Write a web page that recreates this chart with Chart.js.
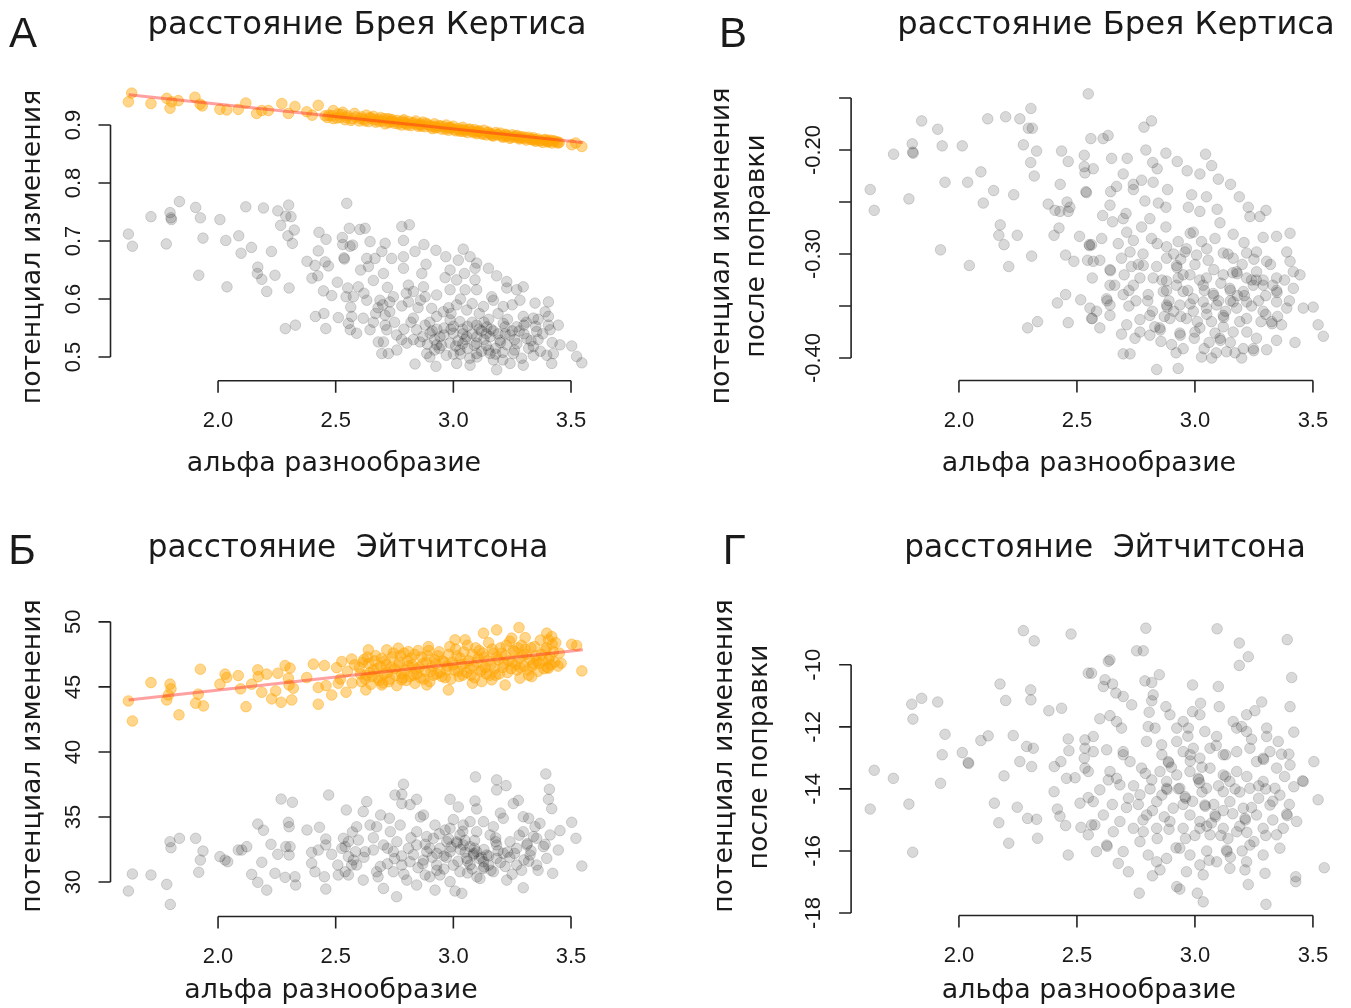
<!DOCTYPE html>
<html lang="ru">
<head>
<meta charset="utf-8">
<title>Потенциал изменения и альфа разнообразие</title>
<script src="https://cdn.jsdelivr.net/npm/chart.js@4.4.1/dist/chart.umd.min.js"></script>
<style>
  html, body { margin: 0; padding: 0; background: #fff; }
  #wrap { position: relative; width: 1351px; height: 1008px; }
  #wrap canvas { position: absolute; left: 0; top: 0; }
</style>
</head>
<body>
<div id="wrap">
  <canvas id="panelA" width="1351" height="1008"></canvas>
  <canvas id="panelB" width="1351" height="1008"></canvas>
  <canvas id="panelC" width="1351" height="1008"></canvas>
  <canvas id="panelD" width="1351" height="1008"></canvas>
</div>
<script>
// Деления осей
const xTicks = [2.0, 2.5, 3.0, 3.5];
const xTickLabels = ['2.0', '2.5', '3.0', '3.5'];
const brayTicks = [0.5, 0.6, 0.7, 0.8, 0.9];
const brayTickLabels = ['0.5', '0.6', '0.7', '0.8', '0.9'];
const brayAdjTicks = [-0.40, -0.35, -0.30, -0.25, -0.20, -0.15];
const brayAdjTickLabels = ['-0.40', '', '-0.30', '', '-0.20', ''];
const aitchTicks = [30, 35, 40, 45, 50];
const aitchTickLabels = ['30', '35', '40', '45', '50'];
const aitchAdjTicks = [-18, -16, -14, -12, -10];
const aitchAdjTickLabels = ['-18', '-16', '-14', '-12', '-10'];

// Линии регрессии
const brayFitX = [1.62, 3.55];
const brayFitY = [0.952, 0.870];
const aitchFitX = [1.62, 3.55];
const aitchFitY = [44.0, 47.85];

// А: Брей-Кертис, наблюдаемые (оранжевые)
const brayObserved = [
  [1.633,0.955],[1.619,0.940],[1.715,0.937],[1.782,0.946],[1.803,0.940],[1.796,0.929],[1.831,0.942],[1.902,0.948],
  [1.924,0.936],[1.933,0.933],[2.008,0.927],[2.037,0.926],[2.086,0.927],[2.118,0.938],[2.164,0.920],[2.186,0.925],
  [2.214,0.925],[2.271,0.937],[2.299,0.920],[2.327,0.932],[2.377,0.923],[2.426,0.934],[2.455,0.916],[2.40,0.917],
  [2.49,0.925],[2.53,0.922],
  [2.47,0.917],[2.49,0.911],[2.51,0.919],[2.52,0.913],[2.54,0.909],[2.55,0.916],[2.57,0.911],[2.58,0.920],
  [2.60,0.907],[2.61,0.914],[2.62,0.910],[2.63,0.917],[2.64,0.906],[2.65,0.912],[2.66,0.915],[2.67,0.905],
  [2.68,0.910],[2.69,0.913],[2.70,0.907],[2.71,0.902],[2.72,0.911],[2.73,0.906],[2.74,0.909],[2.75,0.903],
  [2.76,0.908],[2.77,0.905],[2.78,0.900],[2.79,0.909],[2.80,0.902],[2.81,0.906],[2.82,0.899],[2.83,0.904],
  [2.84,0.907],[2.85,0.898],[2.86,0.902],[2.87,0.905],[2.88,0.897],[2.89,0.901],[2.90,0.899],[2.91,0.894],
  [2.92,0.902],[2.93,0.896],[2.94,0.899],[2.95,0.893],[2.96,0.897],[2.97,0.900],[2.98,0.891],[2.99,0.895],
  [3.00,0.898],[3.01,0.890],[3.02,0.894],[3.03,0.889],[3.04,0.896],[3.05,0.891],[3.06,0.887],[3.07,0.893],
  [3.08,0.889],[3.09,0.892],[3.10,0.885],[3.11,0.890],[3.12,0.886],[3.13,0.891],[3.14,0.883],[3.15,0.888],
  [3.16,0.885],[3.17,0.881],[3.18,0.887],[3.19,0.883],[3.20,0.886],[3.21,0.879],[3.22,0.884],[3.23,0.881],
  [3.24,0.877],[3.25,0.883],[3.26,0.879],[3.27,0.882],[3.28,0.876],[3.29,0.880],[3.30,0.877],[3.31,0.874],
  [3.32,0.879],[3.33,0.875],[3.34,0.878],[3.35,0.872],[3.36,0.876],[3.37,0.873],[3.38,0.870],[3.39,0.875],
  [3.40,0.871],[3.41,0.874],[3.42,0.869],[3.43,0.872],[3.45,0.870],[3.503,0.866],[3.546,0.863],[3.52,0.869],
  [2.73,0.910],[2.79,0.904],[2.86,0.900],[2.92,0.898],[2.98,0.895],[3.04,0.892],[3.10,0.888],[3.16,0.884],
  [3.22,0.880],[3.28,0.878],[3.34,0.874],[3.40,0.873],[3.44,0.871],
  [2.465,0.913],[2.485,0.916],[2.505,0.912],[2.525,0.918],[2.545,0.913],[2.565,0.908],[2.585,0.914],[2.605,0.911],
  [2.625,0.907],[2.645,0.913],[2.665,0.909],[2.685,0.906],[2.705,0.911],[2.725,0.904],[2.745,0.906],[2.765,0.902],
  [2.785,0.907],[2.805,0.900],[2.825,0.903],[2.845,0.901],[2.865,0.898],[2.885,0.903],[2.905,0.897],[2.925,0.895],
  [2.945,0.898],[2.965,0.893],[2.985,0.896],[3.005,0.892],[3.025,0.891],[3.045,0.889],[3.065,0.892],[3.085,0.887],
  [3.105,0.889],[3.125,0.884],[3.145,0.887],[3.165,0.882],[3.185,0.884],[3.205,0.881],[3.225,0.883],[3.245,0.879],
  [3.265,0.881],[3.285,0.878],[3.305,0.879],[3.325,0.876],[3.345,0.875],[3.365,0.873],[3.385,0.874],[3.405,0.871],
  [3.425,0.873],[3.445,0.869]
];

// А: Брей-Кертис, нулевая модель (серые)
const brayNull = [
  [1.836,0.768],[1.905,0.758],[1.715,0.742],[1.796,0.749],[1.800,0.740],[1.802,0.737],[1.925,0.740],[2.008,0.737],
  [2.118,0.759],[2.193,0.757],[2.254,0.752],[2.300,0.762],[2.288,0.743],[2.310,0.742],[2.266,0.727],[2.324,0.719],
  [2.297,0.709],[2.316,0.696],[1.619,0.712],[1.636,0.691],[1.780,0.695],[1.936,0.705],[2.033,0.701],[2.088,0.709],
  [2.142,0.689],[2.098,0.679],[2.227,0.682],[1.918,0.641],[2.038,0.621],[2.169,0.655],[2.167,0.644],[2.186,0.634],
  [2.242,0.641],[2.207,0.613],[2.302,0.619],[2.286,0.549],[2.329,0.555],[2.414,0.570],[2.450,0.575],[2.458,0.549],
  [2.511,0.568],[2.547,0.765],[2.429,0.715],[2.459,0.703],[2.528,0.706],[2.530,0.694],[2.561,0.691],[2.535,0.671],
  [2.537,0.669],[2.426,0.683],[2.378,0.665],[2.412,0.658],[2.455,0.664],[2.469,0.657],[2.399,0.636],[2.424,0.640],
  [2.507,0.629],[2.448,0.614],[2.483,0.606],[2.551,0.619],[2.544,0.604],[2.564,0.586],[2.558,0.722],[2.554,0.558],
  [2.562,0.547],
  [2.781,0.725],[2.813,0.728],[2.603,0.720],[2.625,0.722],[2.572,0.693],[2.646,0.699],[2.710,0.696],[2.788,0.701],
  [2.875,0.694],[2.926,0.684],[2.837,0.682],[3.042,0.686],[3.071,0.673],[2.968,0.673],[3.021,0.667],[2.696,0.682],
  [2.632,0.670],[2.667,0.670],[2.738,0.670],[2.788,0.673],[2.884,0.660],[3.099,0.662],[3.092,0.653],[3.149,0.653],
  [3.184,0.640],[3.047,0.644],[2.986,0.650],[2.965,0.637],[2.606,0.650],[2.639,0.656],[2.703,0.644],[2.788,0.653],
  [2.866,0.644],[3.227,0.630],[3.227,0.619],[3.269,0.616],[3.297,0.621],[3.092,0.633],[3.014,0.633],[2.660,0.632],
  [2.596,0.621],[2.809,0.624],[2.873,0.621],[2.986,0.616],[3.050,0.616],[3.099,0.616],[2.929,0.607],[2.830,0.613],
  [2.575,0.604],[2.632,0.598],[2.688,0.598],[2.745,0.604],[2.809,0.595],[2.880,0.604],[3.163,0.604],[3.170,0.598],
  [3.283,0.598],[3.347,0.593],[3.404,0.595],[3.390,0.578],[3.404,0.570],[3.446,0.555],[2.781,0.588],[2.908,0.584],
  [2.957,0.578],[3.014,0.590],[3.057,0.581],[3.128,0.587],[3.212,0.587],[3.297,0.570],[3.340,0.567],[2.568,0.570],
  [2.617,0.567],[2.710,0.572],[2.830,0.567],[2.929,0.570],[2.986,0.564],[3.028,0.561],[3.099,0.555],[3.142,0.552],
  [3.212,0.558],[3.269,0.552],[3.354,0.544],[3.411,0.547],[3.404,0.555],[2.589,0.541],[2.646,0.547],[2.717,0.547],
  [2.759,0.538],[2.844,0.547],[2.901,0.541],[2.943,0.535],[3.000,0.541],[3.057,0.535],[3.156,0.535],[3.198,0.529],
  [3.312,0.532],[2.703,0.526],[2.681,0.526],[2.802,0.524],[2.858,0.526],[2.929,0.521],[2.986,0.524],[3.099,0.524],
  [3.227,0.521],[3.340,0.518],[3.453,0.521],[3.503,0.519],[2.696,0.506],[2.724,0.506],[2.887,0.506],[3.028,0.512],
  [3.099,0.506],[3.156,0.506],[3.255,0.506],[3.340,0.503],[3.397,0.503],[3.425,0.506],[3.524,0.501],[3.546,0.490],
  [2.837,0.488],[2.926,0.484],[3.014,0.489],[3.071,0.486],[3.184,0.478],[3.241,0.489],[3.297,0.486],[3.418,0.489],
  [3.05,0.530],[3.12,0.545],[3.18,0.515],[3.08,0.560],[2.96,0.550],[3.22,0.540],[3.15,0.565],[2.92,0.530],
  [3.03,0.505],[3.26,0.530],[2.88,0.555],[2.99,0.575],[3.11,0.575],[3.30,0.555],[3.36,0.565],[2.85,0.585],
  [2.75,0.560],[2.68,0.585],[2.72,0.620],[2.62,0.610],
  [2.87,0.535],[2.90,0.560],[2.93,0.548],[2.95,0.520],[2.97,0.503],[3.00,0.553],[3.02,0.528],[3.04,0.548],
  [3.06,0.515],[3.08,0.540],[3.10,0.500],[3.10,0.535],[3.13,0.560],[3.14,0.520],[3.16,0.548],[3.17,0.495],
  [3.19,0.540],[3.21,0.508],[3.23,0.565],[3.24,0.538],[3.26,0.512],[3.28,0.545],[3.29,0.498],[3.31,0.560],
  [3.33,0.528],[3.35,0.553],[3.37,0.510],[3.38,0.540],[3.42,0.525],[2.98,0.585],[3.03,0.600],[3.08,0.592],
  [3.19,0.575],[3.25,0.590],[2.83,0.530],[2.79,0.548],[2.76,0.512],[2.73,0.578],[2.66,0.560],[2.80,0.610],
  [2.86,0.598],[2.92,0.512],[3.12,0.510],[3.07,0.498],[3.21,0.495],[2.90,0.500],
  [2.91,0.545],[2.94,0.515],[2.96,0.538],[2.99,0.548],[3.01,0.519],[3.04,0.540],[3.06,0.553],[3.09,0.520],
  [3.11,0.548],[3.13,0.530],[3.15,0.512],[3.17,0.545],[3.20,0.525],[3.22,0.552],[3.25,0.545],[3.27,0.523],
  [3.30,0.540],[3.32,0.515],[3.04,0.523],[3.14,0.540],[2.70,0.590],[2.73,0.595],[2.67,0.575],[2.71,0.555],
  [2.78,0.530],[2.82,0.560],[2.89,0.522],[3.00,0.505],[3.18,0.505],[3.36,0.530]
];

// В: Брей-Кертис после поправки
const brayAdjusted = [
  [2.548,-0.146],[2.305,-0.160],[1.842,-0.172],[1.910,-0.180],[2.122,-0.170],[2.198,-0.168],[2.258,-0.170],[2.294,-0.179],
  [2.311,-0.179],[1.802,-0.194],[1.804,-0.202],[1.806,-0.203],[1.723,-0.204],[1.929,-0.196],[2.014,-0.196],[2.273,-0.195],
  [2.329,-0.201],[2.435,-0.201],[2.531,-0.205],[2.559,-0.189],[2.304,-0.212],[2.463,-0.211],[2.531,-0.216],[2.534,-0.222],
  [2.093,-0.221],[2.319,-0.225],[1.624,-0.238],[1.641,-0.258],[1.788,-0.247],[1.941,-0.231],[2.037,-0.231],[2.147,-0.239],
  [2.232,-0.243],[2.103,-0.251],[2.429,-0.233],[2.538,-0.240],[2.540,-0.241],[2.378,-0.252],[2.407,-0.258],[2.428,-0.259],
  [2.458,-0.250],[2.470,-0.255],[2.463,-0.259],[2.175,-0.272],[2.169,-0.282],[2.191,-0.291],[2.247,-0.282],[2.424,-0.275],
  [2.403,-0.282],[2.511,-0.283],[2.552,-0.291],[2.554,-0.292],[1.922,-0.296],[2.044,-0.311],[2.211,-0.312],[2.308,-0.302],
  [2.452,-0.301],[2.487,-0.307],[2.545,-0.306],[2.565,-0.323],[2.417,-0.347],[2.452,-0.339],[2.516,-0.344],[2.555,-0.352],
  [2.565,-0.362],[2.291,-0.371],[2.333,-0.365],[2.463,-0.366],
  [2.784,-0.178],[2.816,-0.172],[2.611,-0.189],[2.632,-0.186],[2.647,-0.208],[2.713,-0.208],[2.792,-0.200],[2.877,-0.203],
  [2.821,-0.212],[2.840,-0.218],[2.925,-0.211],[2.967,-0.220],[3.021,-0.223],[3.045,-0.204],[3.071,-0.215],[2.569,-0.218],
  [2.696,-0.223],[2.739,-0.233],[2.774,-0.229],[2.823,-0.231],[2.739,-0.238],[2.643,-0.240],[2.668,-0.235],[2.788,-0.249],
  [2.884,-0.238],[2.845,-0.251],[2.877,-0.255],[3.099,-0.228],[3.151,-0.233],[2.986,-0.243],[3.049,-0.245],[3.094,-0.257],
  [2.972,-0.255],[3.021,-0.259],[3.188,-0.245],[3.226,-0.255],[3.233,-0.264],[3.275,-0.264],[3.301,-0.258],[2.609,-0.263],
  [2.640,-0.253],[2.651,-0.269],[2.696,-0.266],[2.708,-0.261],[2.774,-0.274],[2.809,-0.266],[2.816,-0.285],[2.877,-0.274],
  [2.605,-0.285],[2.675,-0.290],[2.739,-0.287],[2.711,-0.279],[2.993,-0.279],[3.028,-0.288],[3.085,-0.285],[3.106,-0.270],
  [3.162,-0.281],[3.208,-0.289],[3.289,-0.284],[3.346,-0.283],[3.403,-0.280],[2.929,-0.288],[2.964,-0.295],[2.880,-0.293],
  [2.562,-0.291],[2.569,-0.307],[2.597,-0.306],[2.640,-0.315],[2.642,-0.316],[2.689,-0.304],[2.725,-0.298],[2.731,-0.312],
  [2.781,-0.311],[2.838,-0.312],[2.880,-0.304],[2.922,-0.311],[2.924,-0.313],[2.958,-0.298],[3.007,-0.301],[3.056,-0.306],
  [3.120,-0.299],[3.162,-0.304],[3.219,-0.299],[3.261,-0.298],[3.304,-0.307],[3.389,-0.298],[3.417,-0.317],[3.445,-0.320],
  [3.403,-0.307],[2.640,-0.330],[2.626,-0.343],[2.628,-0.345],[2.696,-0.339],[2.739,-0.330],[2.802,-0.339],[2.866,-0.336],
  [2.922,-0.330],[2.880,-0.349],[2.882,-0.351],[2.950,-0.336],[2.993,-0.343],[3.035,-0.330],[3.077,-0.338],[3.148,-0.333],
  [3.150,-0.335],[3.162,-0.346],[3.205,-0.336],[3.247,-0.330],[3.289,-0.330],[3.346,-0.335],[3.348,-0.337],[3.417,-0.333],
  [3.459,-0.352],[3.501,-0.351],[3.522,-0.368],[3.544,-0.379],[3.424,-0.385],[3.346,-0.383],[2.562,-0.362],[2.597,-0.371],
  [2.640,-0.359],[2.689,-0.377],[2.711,-0.368],[2.746,-0.381],[2.767,-0.363],[2.696,-0.396],[2.725,-0.396],[2.838,-0.411],
  [2.929,-0.410],[2.809,-0.359],[2.851,-0.371],[2.853,-0.373],[2.894,-0.362],[2.936,-0.376],[2.938,-0.378],[2.964,-0.362],
  [2.997,-0.381],[3.039,-0.391],[3.021,-0.371],[3.085,-0.376],[3.106,-0.381],[3.108,-0.383],[3.049,-0.352],[3.120,-0.359],
  [3.122,-0.361],[3.162,-0.375],[3.205,-0.391],[3.247,-0.391],[3.249,-0.393],[3.198,-0.400],[3.134,-0.394],[3.304,-0.392],
  [3.219,-0.362],[3.325,-0.365],[3.327,-0.367],[3.367,-0.368],[3.261,-0.381],[2.901,-0.387],[2.950,-0.391],[3.071,-0.400],
  [3.028,-0.399],[2.767,-0.375],[2.809,-0.378],[2.856,-0.384],[3.177,-0.317],[3.179,-0.319],[3.219,-0.323],[3.120,-0.320],
  [3.049,-0.323],[2.979,-0.320],[3.261,-0.317],[3.289,-0.325],[3.346,-0.323],[2.929,-0.323],[2.880,-0.326],[2.823,-0.323],
  [2.767,-0.323],[2.936,-0.349],[2.993,-0.355],[3.035,-0.346],[3.092,-0.349],[3.177,-0.352],[3.219,-0.346],[3.289,-0.355],
  [3.346,-0.346],[3.389,-0.352],[2.640,-0.349],[2.583,-0.355],
  [2.70,-0.320],[2.75,-0.345],[2.78,-0.300],[2.82,-0.355],[2.86,-0.325],[2.89,-0.345],[2.91,-0.300],[2.94,-0.360],
  [2.97,-0.335],[3.00,-0.310],[3.01,-0.365],[3.04,-0.335],[3.06,-0.385],[3.08,-0.315],[3.10,-0.345],[3.12,-0.370],
  [3.14,-0.300],[3.15,-0.385],[3.18,-0.340],[3.20,-0.310],[3.22,-0.375],[3.24,-0.350],[3.26,-0.325],[3.28,-0.365],
  [3.30,-0.340],[3.32,-0.310],[3.35,-0.360],[3.38,-0.325],[3.40,-0.345],[2.98,-0.280],[3.05,-0.295],[2.84,-0.290],
  [2.72,-0.350],[2.66,-0.330],[3.17,-0.395],[2.92,-0.395],[2.87,-0.360],[3.09,-0.395],
  [2.88,-0.335],[2.91,-0.355],[2.95,-0.320],[2.98,-0.348],[3.02,-0.325],[3.05,-0.358],[3.08,-0.340],[3.11,-0.328],
  [3.13,-0.355],[3.16,-0.318],[3.19,-0.365],[3.21,-0.340],[3.24,-0.325],[3.27,-0.345],[3.30,-0.358],[3.33,-0.330],
  [2.80,-0.345],[2.83,-0.370],[3.00,-0.375],[3.15,-0.345],[2.72,-0.335],[2.76,-0.310],[3.07,-0.365],[3.25,-0.305],
  [2.94,-0.305]
];

// Б: Эйтчитсон, наблюдаемые (оранжевые)
const aitchObserved = [
  [1.619,43.92],[1.636,42.38],[1.715,45.33],[1.782,44.00],[1.796,45.21],[1.800,44.85],[1.789,44.38],[1.834,42.85],
  [1.905,43.75],[1.916,44.44],[1.938,43.54],[1.925,46.36],[2.008,45.21],[2.030,45.98],[2.037,45.72],[2.086,45.87],
  [2.096,44.85],[2.119,43.48],[2.143,45.21],[2.169,46.31],[2.171,45.79],[2.186,44.59],[2.207,45.98],[2.228,44.08],
  [2.245,44.69],[2.254,46.05],[2.268,43.82],[2.285,46.64],[2.306,46.44],[2.299,45.67],[2.302,45.15],[2.320,44.90],
  [2.313,44.00],[2.377,45.72],[2.405,46.75],[2.452,46.64],[2.426,43.67],[2.426,44.95],[2.459,45.10],[2.483,44.38],
  [2.504,46.48],[2.526,46.95],[2.568,47.15],[2.511,45.28],[2.544,44.59],[2.639,47.85],[2.628,44.77],[2.979,44.77],
  [3.184,49.38],[3.279,49.56],[3.397,49.13],[3.503,48.28],[3.524,48.18],[3.546,46.23],[3.458,46.82],[3.220,45.15],
  [3.081,45.28],[2.717,47.85],[2.766,47.98],[2.809,47.72],[2.894,48.10],[3.007,48.62],[3.050,48.62],[3.128,49.13],
  [3.248,48.75],[3.305,48.79],[3.404,48.62],[3.418,48.87],[2.696,45.15],[2.781,45.54],[2.837,45.28],[2.887,45.15],
  [3.121,45.41],[3.163,45.54],[3.283,45.67],[3.333,45.79],[3.404,46.44],
  [2.52,45.6],[2.55,46.2],[2.57,45.3],[2.58,46.7],
  [2.60,46.5],[2.61,45.4],[2.62,47.1],[2.63,45.9],[2.64,46.8],[2.65,45.2],[2.66,46.3],[2.67,47.4],
  [2.68,45.7],[2.69,46.6],[2.70,45.3],[2.71,47.0],[2.72,46.1],[2.73,45.6],[2.74,47.3],[2.75,46.4],
  [2.76,45.1],[2.77,46.9],[2.78,46.0],[2.79,47.6],[2.80,45.5],[2.81,46.6],[2.82,47.2],[2.83,45.9],
  [2.84,46.4],[2.85,47.8],[2.86,45.7],[2.87,46.8],[2.88,46.2],[2.89,47.4],[2.90,45.4],[2.91,46.6],
  [2.92,47.1],[2.93,46.0],[2.94,47.7],[2.95,45.8],[2.96,46.9],[2.97,46.3],[2.98,47.5],[2.99,45.6],
  [3.00,46.7],[3.01,47.9],[3.02,46.2],[3.03,47.2],[3.04,45.9],[3.05,46.8],[3.06,48.2],[3.07,46.4],
  [3.08,47.5],[3.09,45.7],[3.10,46.9],[3.11,47.8],[3.12,46.3],[3.13,47.3],[3.14,46.0],[3.15,48.4],
  [3.16,46.7],[3.17,47.6],[3.18,45.9],[3.19,47.1],[3.20,48.0],[3.21,46.5],[3.22,47.4],[3.23,46.1],
  [3.24,48.5],[3.25,46.9],[3.26,47.7],[3.27,46.3],[3.28,47.2],[3.29,48.2],[3.30,46.6],[3.31,47.5],
  [3.32,45.9],[3.33,48.0],[3.34,46.8],[3.35,47.4],[3.36,46.2],[3.37,48.6],[3.38,47.0],[3.39,47.8],
  [3.40,46.5],[3.41,47.3],[3.42,48.3],[3.43,46.9],[3.45,47.6],
  [2.605,46.0],[2.615,46.9],[2.625,45.6],[2.635,47.3],[2.645,46.1],[2.655,45.8],[2.665,47.0],[2.675,46.4],
  [2.685,45.5],[2.695,47.2],[2.705,46.0],[2.715,46.7],[2.725,45.4],[2.735,46.5],[2.745,47.6],[2.755,45.9],
  [2.765,46.6],[2.775,47.4],[2.785,45.7],[2.795,46.3],[2.805,47.0],[2.815,45.8],[2.825,46.7],[2.835,47.5],
  [2.845,46.0],[2.855,46.5],[2.865,47.3],[2.875,45.6],[2.885,46.9],[2.895,47.8],[2.905,46.2],[2.915,45.9],
  [2.925,46.8],[2.935,47.4],[2.945,46.1],[2.955,47.0],[2.965,45.7],[2.975,46.6],[2.985,48.1],[2.995,46.9],
  [3.005,46.3],[3.015,47.4],[3.025,45.8],[3.035,46.7],[3.045,47.7],[3.055,46.1],[3.065,47.0],[3.075,45.9],
  [3.085,46.6],[3.095,48.0],[3.105,47.2],[3.115,46.2],[3.125,47.6],[3.135,46.5],[3.145,47.0],[3.155,45.9],
  [3.165,47.9],[3.175,46.4],[3.185,47.3],[3.195,46.0],[3.205,47.6],[3.215,46.8],[3.225,48.2],[3.235,47.0],
  [3.245,46.4],[3.255,47.8],[3.265,46.7],[3.275,48.0],[3.285,46.5],[3.295,47.4],[3.305,47.9],[3.315,46.3],
  [3.325,47.1],[3.335,46.6],[3.345,48.1],[3.355,47.0],[3.365,46.8],[3.375,47.5],[3.385,46.4],[3.395,48.0],
  [3.405,47.1],[3.415,46.7],[3.425,47.7],[3.435,48.4],[3.445,46.6]
];

// Б: Эйтчитсон, нулевая модель (серые)
const aitchNull = [
  [2.268,36.38],[2.316,36.13],[2.470,36.69],[2.545,35.54],[2.169,34.46],[2.193,33.98],[2.299,34.59],[2.302,34.25],
  [2.378,34.00],[2.431,34.21],[1.796,33.10],[1.836,33.36],[1.800,32.64],[1.905,33.36],[1.936,32.38],[1.925,31.69],
  [1.918,30.75],[2.008,31.95],[2.030,31.69],[2.041,31.56],[2.086,32.46],[2.101,32.46],[2.122,32.72],[2.225,32.90],
  [2.186,31.52],[2.254,32.13],[2.288,32.72],[2.306,32.72],[2.302,32.08],[2.143,30.59],[2.169,29.98],[2.207,29.38],
  [2.242,30.67],[2.285,30.36],[2.327,30.41],[2.330,29.77],[2.398,32.28],[2.426,32.46],[2.458,32.85],[2.483,32.13],
  [2.458,33.31],[2.398,31.44],[2.412,30.79],[2.452,30.41],[2.458,29.46],[2.509,31.31],[2.511,30.54],[2.533,33.36],
  [2.540,32.72],[2.554,31.95],[2.568,31.31],[2.554,30.54],[2.571,33.85],[1.636,30.62],[1.715,30.54],[1.619,29.31],
  [1.782,29.82],[1.797,28.28],[2.540,30.79],[2.526,32.59],[2.554,33.10],[2.575,31.69],
  [3.094,38.08],[3.184,37.85],[3.184,37.08],[3.224,37.41],[3.393,38.31],[3.408,37.13],[2.788,37.52],[2.752,36.69],
  [2.781,36.74],[2.632,36.18],[2.617,35.41],[2.691,35.15],[2.728,34.90],[2.781,36.03],[2.816,35.95],[2.844,36.36],
  [2.873,35.15],[2.986,36.36],[3.021,35.77],[3.092,36.23],[3.099,35.62],[3.255,36.03],[3.276,36.28],[3.297,35.02],
  [3.404,36.36],[3.418,35.64],[3.503,34.59],[3.521,33.36],[3.546,31.23],[3.453,33.95],[3.446,32.46],[3.422,30.67],
  [3.297,29.56],[2.759,28.87],[3.036,29.13],[3.007,29.31],[2.922,29.38],
  [3.085,32.08],[3.087,32.20],[3.014,33.10],[3.016,33.00],[2.929,31.31],[3.128,31.05],[3.130,31.15],[3.212,32.21],
  [3.312,32.85],[3.314,32.95],[3.383,32.72],
  [2.589,34.25],[2.646,34.38],[2.674,34.25],[2.596,33.23],[2.625,32.33],[2.660,32.46],[2.703,32.85],[2.745,32.33],
  [2.781,31.31],[2.809,32.59],[2.844,33.87],[2.887,33.49],[2.922,34.38],[2.965,34.00],[3.042,34.38],[3.071,34.64],
  [3.128,34.64],[3.170,34.25],[3.212,34.90],[3.297,33.87],[3.347,34.25],[3.368,34.51],[2.589,31.31],[2.617,30.15],
  [2.674,30.79],[2.703,29.51],[2.745,30.79],[2.802,30.15],[2.844,29.77],[2.880,30.54],[2.943,30.54],[2.986,30.03],
  [3.028,30.79],[3.071,31.31],[3.113,30.28],[3.170,30.79],[3.227,30.15],[3.269,31.31],[3.326,32.08],[3.354,31.31],
  [3.397,31.82],[2.887,32.33],[2.943,32.59],[2.986,32.33],[3.042,32.85],[3.057,31.82],[3.142,32.08],[3.184,32.85],
  [3.241,33.10],[3.269,32.59],[2.844,32.85],[2.816,31.56],[2.873,31.69],[2.732,33.87],[2.774,34.38],[2.986,34.13],
  [3.099,33.87],[3.156,33.62],[2.915,33.36],[2.972,33.10],[3.028,33.62],[3.071,32.72],[3.099,32.33],[3.128,31.56],
  [3.184,31.82],[3.354,33.36],[3.411,33.62],[2.584,32.33],
  [2.62,31.9],[2.66,33.4],[2.69,31.2],[2.72,32.6],[2.76,33.1],[2.79,30.6],[2.82,33.4],[2.85,31.1],
  [2.88,32.9],[2.91,31.9],[2.94,33.7],[2.96,31.0],[2.99,32.7],[3.02,31.6],[3.04,33.9],[3.06,30.7],
  [3.09,33.2],[3.11,31.8],[3.13,32.5],[3.16,30.9],[3.18,33.4],[3.20,31.5],[3.23,32.3],[3.25,30.6],
  [3.28,33.6],[3.30,31.7],[3.33,32.4],[3.36,30.9],[3.39,32.9],[3.05,32.3],[3.08,31.0],[2.97,31.9],
  [2.93,32.2],[3.15,32.0],[3.24,31.9],[2.75,31.8],[2.68,30.4],[3.00,34.8],[3.20,35.3],[2.86,35.0],
  [3.32,34.9],
  [2.83,32.1],[2.87,31.4],[2.90,32.6],[2.93,30.9],[2.96,32.0],[3.00,31.3],[3.03,32.5],[3.06,31.6],
  [3.09,32.6],[3.12,31.9],[3.15,31.3],[3.19,32.4],[3.22,31.2],[3.26,32.2],[3.29,30.9],[3.32,31.6],
  [2.78,32.0],[2.72,31.4],[3.05,33.2],[3.18,33.1],[2.98,33.3],[3.10,30.4],[2.90,30.4],[3.34,33.5]
];

// Г: Эйтчитсон после поправки
const aitchAdjusted = [
  [2.273,-8.90],[2.319,-9.23],[2.475,-9.01],[2.548,-10.27],[2.174,-10.62],[2.304,-10.81],[2.305,-11.13],[2.198,-11.15],
  [2.381,-11.48],[2.435,-11.40],[1.800,-11.27],[1.842,-11.08],[1.910,-11.20],[1.805,-11.75],[1.941,-12.24],[1.929,-12.90],
  [2.014,-12.83],[2.039,-13.15],[2.041,-13.18],[2.093,-12.44],[2.124,-12.29],[2.230,-12.28],[2.287,-12.63],[2.315,-12.69],
  [2.258,-13.12],[2.308,-13.28],[2.191,-13.58],[1.641,-13.40],[1.722,-13.66],[1.922,-13.82],[1.788,-14.49],[1.624,-14.65],
  [1.804,-16.04],[2.150,-14.46],[2.247,-14.59],[2.169,-15.09],[2.291,-14.95],[2.329,-14.98],[2.211,-15.75],[2.333,-15.59],
  [2.463,-12.39],[2.534,-12.42],[2.466,-12.77],[2.432,-13.12],[2.404,-13.28],[2.456,-13.66],[2.492,-13.64],[2.534,-12.69],
  [2.531,-13.01],[2.534,-13.33],[2.548,-13.44],[2.403,-14.09],[2.417,-14.65],[2.428,-14.88],[2.452,-15.18],[2.517,-15.24],
  [2.548,-15.48],[2.562,-15.16],[2.513,-14.46],[2.548,-14.28],[2.463,-16.13],
  [2.792,-8.82],[3.094,-8.84],[3.391,-9.19],[3.188,-9.30],[3.226,-9.74],[3.188,-10.02],[2.753,-9.55],[2.781,-9.55],
  [2.640,-9.84],[2.633,-9.89],[3.410,-10.41],[2.562,-10.27],[2.619,-10.48],[2.612,-10.70],[2.651,-10.62],[2.665,-10.91],
  [2.696,-11.02],[2.732,-11.29],[2.788,-10.52],[2.817,-10.57],[2.849,-10.32],[2.823,-10.97],[2.817,-11.16],[2.806,-11.53],
  [2.877,-11.35],[2.990,-10.65],[3.099,-10.70],[3.103,-11.35],[3.024,-11.24],[2.990,-11.51],[3.283,-11.20],[3.254,-11.48],
  [3.403,-11.35],[2.597,-11.74],[2.640,-11.64],[2.668,-11.83],[2.689,-12.04],[2.569,-12.31],[2.569,-12.80],[2.626,-12.74],
  [2.696,-12.80],[2.802,-11.99],[2.831,-12.04],[2.923,-12.04],[2.972,-12.04],[3.042,-12.15],[3.092,-12.31],[3.162,-11.83],
  [3.198,-11.99],[3.219,-12.15],[3.304,-12.04],[3.304,-12.31],[3.353,-12.47],[3.419,-12.17],[3.504,-13.12],[3.456,-13.74],
  [3.522,-14.35],[3.419,-13.93],[3.367,-12.88],[3.398,-12.88],[3.548,-16.54],[3.427,-16.83],[3.427,-16.99],[3.301,-17.72],
  [2.764,-17.36],[2.923,-17.15],[2.936,-17.23],[3.010,-17.36],[3.035,-17.64],[3.226,-17.08],[3.297,-16.72],[3.212,-16.61],
  [3.035,-16.77],
  [3.085,-14.84],[3.087,-14.90],[3.134,-15.97],[3.136,-16.02],[3.212,-14.95],[3.214,-15.00],[3.014,-13.66],[3.016,-13.70],
  [3.042,-14.52],[3.044,-14.56],[2.880,-13.98],[2.882,-14.02],[2.958,-14.25],[2.960,-14.30],[3.389,-14.81],[3.391,-14.86],
  [3.318,-14.52],[2.887,-13.12],[2.889,-13.16],[2.817,-13.71],[2.718,-14.30],[2.626,-15.81],[2.628,-15.85],
  [2.633,-13.71],[2.682,-13.87],[2.597,-14.03],[2.569,-14.41],[2.612,-14.84],[2.682,-15.05],[2.654,-15.38],[2.576,-15.16],
  [2.583,-16.02],[2.696,-16.02],[2.718,-16.67],[2.675,-16.40],[2.767,-15.70],[2.802,-16.13],[2.838,-16.35],[2.774,-13.33],
  [2.725,-13.12],[2.696,-12.90],[2.640,-13.44],[2.668,-13.66],[2.795,-12.47],[2.859,-12.58],[2.923,-12.47],[2.950,-12.80],
  [2.993,-12.69],[3.021,-13.01],[3.064,-12.69],[3.120,-12.90],[3.177,-12.80],[3.233,-12.69],[3.261,-13.12],[3.318,-12.80],
  [3.346,-13.33],[3.403,-13.23],[3.459,-13.76],[3.289,-13.76],[3.233,-13.98],[3.177,-13.44],[3.120,-13.55],[3.064,-13.33],
  [2.979,-13.44],[2.923,-13.55],[2.852,-13.44],[2.767,-14.19],[2.838,-14.41],[2.908,-14.62],[2.979,-14.84],[3.021,-15.05],
  [3.148,-14.41],[3.205,-14.62],[3.261,-14.84],[3.289,-15.27],[3.346,-15.48],[3.374,-15.27],[3.431,-15.05],[3.360,-15.91],
  [3.289,-16.13],[3.233,-15.81],[3.177,-15.38],[3.120,-15.27],[3.064,-15.48],[3.021,-15.27],[2.950,-15.27],[2.894,-15.05],
  [2.838,-15.27],[2.781,-15.38],[2.936,-15.91],[2.979,-16.13],[2.880,-16.24],[3.021,-16.45],[3.092,-16.35],[3.148,-16.56],
  [3.219,-16.35],[2.852,-16.61],[2.964,-16.67],[2.880,-13.76],[2.936,-13.98],[3.049,-13.98],[3.120,-14.09],[3.148,-13.76],
  [3.021,-11.61],[2.950,-11.83],[2.894,-11.61],[3.177,-12.04],[3.219,-11.61],[3.289,-13.01],[3.291,-13.05],[3.339,-13.98],
  [2.795,-14.84],[2.739,-15.27],
  [2.71,-14.6],[2.74,-13.9],[2.78,-15.0],[2.81,-14.0],[2.84,-15.6],[2.87,-14.9],[2.90,-13.3],[2.92,-15.9],
  [2.95,-14.5],[2.98,-13.1],[3.00,-15.5],[3.03,-14.1],[3.05,-16.0],[3.07,-15.1],[3.10,-13.9],[3.12,-14.7],
  [3.14,-15.6],[3.17,-14.0],[3.19,-15.2],[3.22,-13.6],[3.25,-15.7],[3.27,-14.3],[3.30,-14.0],[3.33,-15.0],
  [3.36,-14.2],[3.40,-14.5],[3.09,-12.6],[2.97,-12.3],[3.24,-12.4],[2.86,-12.9],[3.15,-16.2],[2.82,-16.8],
  [3.38,-13.6],[2.65,-14.5],[3.03,-13.3],
  [2.82,-14.7],[2.86,-14.2],[2.89,-15.3],[2.93,-14.0],[2.96,-15.6],[2.99,-14.4],[3.02,-13.8],[3.05,-15.2],
  [3.08,-14.5],[3.11,-15.5],[3.13,-13.6],[3.16,-14.8],[3.19,-14.1],[3.22,-15.4],[3.24,-14.6],[3.27,-13.9],
  [3.30,-15.5],[3.33,-14.4],[2.76,-14.5],[2.79,-13.5],[3.06,-16.3],[3.20,-16.0],[2.98,-12.9],[3.13,-12.9]
];

// Стиль точек
const GRAY = 'rgba(0, 0, 0, 0.15)';
const ORANGE = 'rgba(255, 165, 0, 0.45)';
const FIT_RED = 'rgba(255, 30, 30, 0.42)';
const FONT_CYR = '"DejaVu Sans", sans-serif';
const FONT_NUM = '"Liberation Sans", Arial, sans-serif';

function pointSet(pairs, color) {
    return {
        data: pairs.map(p => ({ x: p[0], y: p[1] })),
        backgroundColor: color,
        borderColor: color,
        borderWidth: 1,
        pointRadius: 5.3,
        clip: false,
        order: 2
    };
}

function fitSet(xs, ys) {
    return {
        data: xs.map((x, i) => ({ x: x, y: ys[i] })),
        showLine: true,
        pointRadius: 0,
        borderColor: FIT_RED,
        borderWidth: 3,
        clip: false,
        order: 1
    };
}

// Текст, подогнанный по ширине
function drawText(ctx, t) {
    ctx.save();
    ctx.font = '100px ' + t.family;
    let size = t.size;
    if (t.w) size = 100 * t.w / ctx.measureText(t.text).width;
    ctx.font = size.toFixed(1) + 'px ' + t.family;
    ctx.textAlign = 'center';
    ctx.textBaseline = 'middle';
    ctx.fillStyle = '#1a1a1a';
    ctx.translate(t.x, t.y);
    if (t.rotate) ctx.rotate(-Math.PI / 2);
    ctx.fillText(t.text, 0, 0);
    ctx.restore();
}

// Оси в стиле R: линия только от первого до последнего деления
const rAxesPlugin = {
    id: 'rAxes',
    afterDraw(chart, args, opts) {
        const ctx = chart.ctx;
        const xs = chart.scales.x, ys = chart.scales.y;
        const area = chart.chartArea;
        ctx.save();
        ctx.strokeStyle = '#222';
        ctx.lineWidth = 1.6;
        ctx.beginPath();
        const xa = xs.getPixelForValue(opts.xTicks[0]);
        const xb = xs.getPixelForValue(opts.xTicks[opts.xTicks.length - 1]);
        ctx.moveTo(xa, area.bottom);
        ctx.lineTo(xb, area.bottom);
        opts.xTicks.forEach(v => {
            const p = xs.getPixelForValue(v);
            ctx.moveTo(p, area.bottom);
            ctx.lineTo(p, area.bottom + 12);
        });
        const ya = ys.getPixelForValue(opts.yTicks[0]);
        const yb = ys.getPixelForValue(opts.yTicks[opts.yTicks.length - 1]);
        ctx.moveTo(area.left, ya);
        ctx.lineTo(area.left, yb);
        opts.yTicks.forEach(v => {
            const p = ys.getPixelForValue(v);
            ctx.moveTo(area.left, p);
            ctx.lineTo(area.left - 12, p);
        });
        ctx.stroke();
        ctx.restore();

        opts.xTicks.forEach((v, i) => {
            drawText(ctx, { text: opts.xLabels[i], x: xs.getPixelForValue(v), y: area.bottom + 40, size: 22, family: FONT_NUM });
        });
        opts.yTicks.forEach((v, i) => {
            if (!opts.yLabels[i]) return;
            drawText(ctx, { text: opts.yLabels[i], x: area.left - 37, y: ys.getPixelForValue(v), size: 22, family: FONT_NUM, rotate: true });
        });
        opts.texts.forEach(t => drawText(ctx, t));
    }
};

function makePanel(id, cfg) {
    const a = cfg.area;
    return new Chart(document.getElementById(id), {
        type: 'scatter',
        data: { datasets: cfg.datasets },
        options: {
            responsive: false,
            animation: false,
            events: [],
            layout: { padding: { left: a.left, top: a.top, right: 1351 - a.right, bottom: 1008 - a.bottom } },
            scales: {
                x: { type: 'linear', display: false, min: cfg.xMin, max: cfg.xMax },
                y: { type: 'linear', display: false, min: cfg.yMin, max: cfg.yMax }
            },
            plugins: {
                legend: { display: false },
                tooltip: { enabled: false },
                rAxes: cfg.axes
            }
        },
        plugins: [rAxesPlugin]
    });
}

const titleBray = 'расстояние Брея Кертиса';
const titleAitch = 'расстояние  Эйтчитсона';
const xTitle = 'альфа разнообразие';
const yTitle = 'потенциал изменения';
const yTitle2 = 'после поправки';

makePanel('panelA', {
    area: { left: 110.5, right: 600.9, top: 82.1, bottom: 380.8 },
    xMin: 1.543, xMax: 3.627, yMin: 0.459, yMax: 0.974,
    datasets: [fitSet(brayFitX, brayFitY), pointSet(brayObserved, ORANGE), pointSet(brayNull, GRAY)],
    axes: {
        xTicks: xTicks, xLabels: xTickLabels, yTicks: brayTicks, yLabels: brayTickLabels,
        texts: [
            { text: 'А', x: 23, y: 35, size: 42, family: FONT_NUM },
            { text: titleBray, x: 367, y: 26, w: 439, family: FONT_CYR },
            { text: xTitle, x: 334, y: 464, w: 294, family: FONT_CYR },
            { text: yTitle, x: 33, y: 247, w: 315, family: FONT_CYR, rotate: true }
        ]
    }
});

makePanel('panelB', {
    area: { left: 851.1, right: 1342.9, top: 81.8, bottom: 380.5 },
    xMin: 1.543, xMax: 3.627, yMin: -0.4216, yMax: -0.1344,
    datasets: [pointSet(brayAdjusted, GRAY)],
    axes: {
        xTicks: xTicks, xLabels: xTickLabels, yTicks: brayAdjTicks, yLabels: brayAdjTickLabels,
        texts: [
            { text: 'В', x: 733, y: 35, size: 42, family: FONT_NUM },
            { text: titleBray, x: 1116, y: 26, w: 438, family: FONT_CYR },
            { text: xTitle, x: 1089, y: 464, w: 294, family: FONT_CYR },
            { text: yTitle, x: 722, y: 246, w: 317, family: FONT_CYR, rotate: true },
            { text: yTitle2, x: 757, y: 246, w: 223, family: FONT_CYR, rotate: true }
        ]
    }
});

makePanel('panelC', {
    area: { left: 110.5, right: 600.9, top: 616, bottom: 916.5 },
    xMin: 1.543, xMax: 3.627, yMin: 27.35, yMax: 50.45,
    datasets: [fitSet(aitchFitX, aitchFitY), pointSet(aitchObserved, ORANGE), pointSet(aitchNull, GRAY)],
    axes: {
        xTicks: xTicks, xLabels: xTickLabels, yTicks: aitchTicks, yLabels: aitchTickLabels,
        texts: [
            { text: 'Б', x: 22, y: 552, size: 42, family: FONT_NUM },
            { text: titleAitch, x: 348, y: 549, w: 401, family: FONT_CYR },
            { text: xTitle, x: 331, y: 991, w: 293, family: FONT_CYR },
            { text: yTitle, x: 33, y: 756, w: 313, family: FONT_CYR, rotate: true }
        ]
    }
});

makePanel('panelD', {
    area: { left: 851.1, right: 1342.9, top: 617, bottom: 915.5 },
    xMin: 1.543, xMax: 3.627, yMin: -18.08, yMax: -8.46,
    datasets: [pointSet(aitchAdjusted, GRAY)],
    axes: {
        xTicks: xTicks, xLabels: xTickLabels, yTicks: aitchAdjTicks, yLabels: aitchAdjTickLabels,
        texts: [
            { text: 'Г', x: 734, y: 552, size: 42, family: FONT_NUM },
            { text: titleAitch, x: 1105, y: 549, w: 402, family: FONT_CYR },
            { text: xTitle, x: 1089, y: 991, w: 294, family: FONT_CYR },
            { text: yTitle, x: 725, y: 756, w: 313, family: FONT_CYR, rotate: true },
            { text: yTitle2, x: 760, y: 757, w: 225, family: FONT_CYR, rotate: true }
        ]
    }
});
</script>
</body>
</html>
